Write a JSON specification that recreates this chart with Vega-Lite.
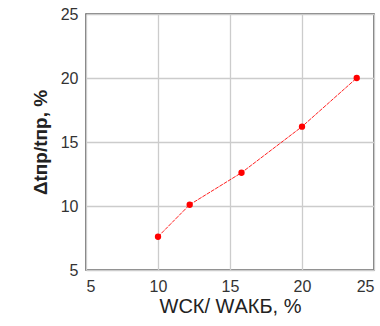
{
  "$schema": "https://vega.github.io/schema/vega-lite/v6.json",
  "width": 288,
  "height": 256,
  "autosize": {"type": "none"},
  "padding": {"left": 86, "top": 14, "right": 6, "bottom": 56},
  "background": "white",
  "config": {
    "view": {"stroke": "#555555", "strokeWidth": 1.5},
    "font": "Liberation Sans"
  },
  "data": {"values": [
    {"w": 10, "dt": 7.6},
    {"w": 12.2, "dt": 10.1},
    {"w": 15.8, "dt": 12.6},
    {"w": 20, "dt": 16.2},
    {"w": 23.8, "dt": 20.0}
  ]},
  "encoding": {
    "x": {"field": "w", "type": "quantitative",
      "scale": {"domain": [5, 25], "nice": false, "zero": false},
      "axis": {"values": [5, 10, 15, 20, 25], "title": "WСК/ WАКБ, %", "domain": false, "ticks": false,
        "labelFontSize": 16, "labelColor": "#333", "labelPadding": 8, "gridColor": "#cccccc", "gridWidth": 1.3,
        "titleFontSize": 20, "titleFontWeight": "normal", "titleColor": "#222", "titlePadding": 2}},
    "y": {"field": "dt", "type": "quantitative",
      "scale": {"domain": [5, 25], "nice": false, "zero": false},
      "axis": {"values": [5, 10, 15, 20, 25], "title": "Δtпр/tпр, %", "domain": false, "ticks": false,
        "labelFontSize": 16, "labelColor": "#333", "labelPadding": 8, "gridColor": "#cccccc", "gridWidth": 1.3,
        "titleFontSize": 19, "titleFontWeight": "bold", "titleColor": "#222", "titlePadding": 10}}
  },
  "layer": [
    {"mark": {"type": "line", "color": "#ff2020", "strokeWidth": 1, "strokeDash": [4, 1]}},
    {"mark": {"type": "point", "filled": true, "color": "#ff0000", "size": 40, "opacity": 1}}
  ]
}
